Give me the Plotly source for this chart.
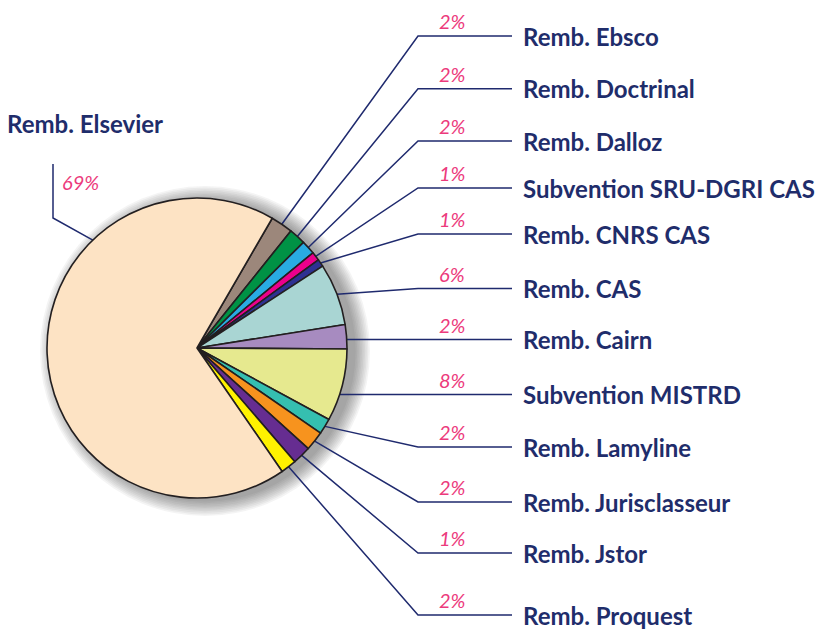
import math
import plotly.graph_objects as go

# ---------------- data ----------------
labels = ["Remb. Ebsco", "Remb. Doctrinal", "Remb. Dalloz", "Subvention SRU-DGRI CAS",
          "Remb. CNRS CAS", "Remb. CAS", "Remb. Cairn", "Subvention MISTRD",
          "Remb. Lamyline", "Remb. Jurisclasseur", "Remb. Jstor", "Remb. Proquest",
          "Remb. Elsevier"]
values = [2.4, 1.8, 1.5, 0.95, 0.8, 6.7, 2.6, 7.8, 1.7, 2.1, 2.0, 1.7, 68.0]
pct_text = ["2%", "2%", "2%", "1%", "1%", "6%", "2%", "8%", "2%", "2%", "1%", "2%", "69%"]

# ---------------- style ----------------
colors = ["#9c877b", "#009245", "#29abe2", "#ec008c", "#2e3192", "#a9d5d3", "#a78bc0",
          "#e6e98f", "#35bfb0", "#f7931e", "#662d91", "#fff200", "#fde3c4"]
W, H = 826, 630
CX, CY, R = 197, 348, 150          # pie centre / radius in px
ROTATION = 30.1                    # start angle of first slice (deg, clockwise from 12h)
LINE_COL = "#1f2a6e"
TEXT_COL = "#1f2d6b"
PCT_COL = "#ec3a7c"
FONT = "Lato, 'Liberation Sans', Arial, sans-serif"
LABEL_SIZE = 24
PCT_SIZE = 20
# right-hand label rows (px from top)
label_y = [36, 88.7, 141, 188, 234, 288.5, 339.5, 394.5, 447, 502, 553, 615]
ELBOW_X, LINE_END_X, TEXT_X, PCT_X = 418, 512, 521, 452
# Elsevier label (left side)
ELS_ANCHOR_ANGLE = 316
ELS_ELBOW = (53, 218)
ELS_TOP_Y = 164

fig = go.Figure()

# overlay cartesian axes in pixel coordinates
fig.update_layout(
    width=W, height=H, margin=dict(l=0, r=0, t=0, b=0),
    paper_bgcolor="white", plot_bgcolor="rgba(0,0,0,0)", showlegend=False,
    xaxis=dict(range=[0, W], visible=False, domain=[0, 1], fixedrange=True),
    yaxis=dict(range=[H, 0], visible=False, domain=[0, 1], fixedrange=True),
)

# soft drop shadow
shapes = []
for i in range(10):
    rr = R + 15 - i * 1.6
    shapes.append(dict(type="circle", xref="x", yref="y", layer="below",
                       x0=CX + 8 - rr, x1=CX + 8 + rr, y0=CY + 3 - rr, y1=CY + 3 + rr,
                       fillcolor="rgba(60,60,60,0.055)", line=dict(width=0)))
fig.update_layout(shapes=shapes)

fig.add_trace(go.Pie(
    labels=labels, values=values, sort=False, direction="clockwise",
    rotation=ROTATION, textinfo="none", hoverinfo="label+percent",
    marker=dict(colors=colors, line=dict(color="#231f20", width=1.6)),
    domain=dict(x=[(CX - R) / W, (CX + R) / W], y=[1 - (CY + R) / H, 1 - (CY - R) / H]),
))

total = sum(values)
cum = 0.0
annotations = []
for i, (lab, v, pt) in enumerate(zip(labels, values, pct_text)):
    a0 = ROTATION + 360 * cum / total
    cum += v
    a1 = ROTATION + 360 * cum / total
    mid = math.radians((a0 + a1) / 2)
    if lab == "Remb. Elsevier":
        ang = math.radians(ELS_ANCHOR_ANGLE)
        px, py = CX + R * math.sin(ang), CY - R * math.cos(ang)
        xs = [px, ELS_ELBOW[0], ELS_ELBOW[0]]
        ys = [py, ELS_ELBOW[1], ELS_TOP_Y]
        annotations.append(dict(x=5, y=123, text=lab, xanchor="left", yanchor="middle",
                                showarrow=False,
                                font=dict(family=FONT, size=LABEL_SIZE, color=TEXT_COL, weight=700)))
        annotations.append(dict(x=80, y=182, text="<i>" + pt + "</i>", xanchor="center",
                                yanchor="middle", showarrow=False,
                                font=dict(family=FONT, size=PCT_SIZE, color=PCT_COL)))
    else:
        px, py = CX + R * math.sin(mid), CY - R * math.cos(mid)
        ly = label_y[i]
        # if the label row crosses the slice just below its middle, run the leader straight
        c = (CY - ly) / R
        if abs(c) < 1 and ly > py:
            ang_h = math.degrees(math.acos(c))
            if a0 <= ang_h <= a1:
                px, py = CX + R * math.sin(math.radians(ang_h)), ly
        xs = [px, ELBOW_X, LINE_END_X]
        ys = [py, ly, ly]
        annotations.append(dict(x=TEXT_X, y=ly, text=lab, xanchor="left", yanchor="middle",
                                showarrow=False,
                                font=dict(family=FONT, size=LABEL_SIZE, color=TEXT_COL, weight=700)))
        annotations.append(dict(x=PCT_X, y=ly - 15, text="<i>" + pt + "</i>", xanchor="center",
                                yanchor="middle", showarrow=False,
                                font=dict(family=FONT, size=PCT_SIZE, color=PCT_COL)))
    fig.add_trace(go.Scatter(x=xs, y=ys, mode="lines", hoverinfo="skip",
                             line=dict(color=LINE_COL, width=1.5)))

fig.update_layout(annotations=annotations)
fig.write_html("out.html", config={"displayModeBar": False},
               post_script="document.body.style.margin='0';document.body.style.overflow='hidden';")
